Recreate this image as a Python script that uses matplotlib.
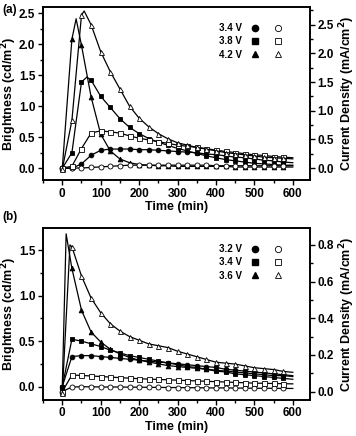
import numpy as np
import matplotlib.pyplot as plt
from matplotlib.lines import Line2D
from matplotlib.legend_handler import HandlerTuple
from matplotlib.ticker import MultipleLocator

plt.rcParams['font.family'] = ['Liberation Sans', 'DejaVu Sans']
plt.rcParams['font.weight'] = 'bold'
plt.rcParams['axes.labelweight'] = 'bold'

# time grid (min), markers every 25 min, line runs on to 600
t = np.arange(0, 625, 25)

# panel (a): filled = brightness (cd/m2), open = current density (mA/cm2)
a_labels = ['3.4 V', '3.8 V', '4.2 V']
a_bright = [
    [0, 0.0, 0.07, 0.21, 0.29, 0.31, 0.31, 0.31, 0.30, 0.30, 0.29, 0.28, 0.27,
     0.26, 0.25, 0.23, 0.22, 0.20, 0.18, 0.17, 0.15, 0.13, 0.12, 0.10, 0.09],
    [0, 0.25, 1.39, 1.42, 1.16, 0.98, 0.80, 0.66, 0.56, 0.48, 0.42, 0.37, 0.32,
     0.28, 0.24, 0.20, 0.17, 0.14, 0.12, 0.10, 0.08, 0.07, 0.06, 0.05, 0.05],
    [0, 2.08, 1.98, 1.15, 0.55, 0.28, 0.15, 0.09, 0.06, 0.05, 0.04, 0.04, 0.03,
     0.03, 0.03, 0.03, 0.03, 0.03, 0.02, 0.02, 0.02, 0.02, 0.02, 0.02, 0.02],
]
a_bright_peak = [None, (64, 1.47), (36, 2.41)]
a_curr = [
    [0, 0.0, 0.0, 0.01, 0.02, 0.03, 0.04, 0.05, 0.05, 0.05, 0.05, 0.05, 0.05,
     0.05, 0.05, 0.05, 0.04, 0.04, 0.04, 0.04, 0.04, 0.04, 0.04, 0.04, 0.04],
    [0, 0.03, 0.34, 0.61, 0.65, 0.63, 0.61, 0.56, 0.52, 0.49, 0.46, 0.43, 0.40,
     0.38, 0.36, 0.34, 0.31, 0.29, 0.27, 0.25, 0.23, 0.22, 0.20, 0.19, 0.18],
    [-0.02, 0.83, 2.67, 2.50, 2.03, 1.68, 1.38, 1.08, 0.87, 0.72, 0.60, 0.51, 0.44,
     0.40, 0.36, 0.33, 0.30, 0.27, 0.25, 0.23, 0.21, 0.19, 0.18, 0.17, 0.16],
]
a_curr_peak = [None, None, (57, 2.74)]

# panel (b)
b_labels = ['3.2 V', '3.4 V', '3.6 V']
b_bright = [
    [0, 0.33, 0.34, 0.34, 0.33, 0.32, 0.31, 0.30, 0.29, 0.28, 0.27, 0.26, 0.25,
     0.24, 0.23, 0.22, 0.21, 0.19, 0.18, 0.17, 0.16, 0.15, 0.14, 0.13, 0.12],
    [0, 0.52, 0.50, 0.47, 0.44, 0.40, 0.37, 0.34, 0.32, 0.30, 0.28, 0.26, 0.24,
     0.22, 0.21, 0.19, 0.17, 0.16, 0.14, 0.13, 0.12, 0.11, 0.10, 0.09, 0.08],
    [0, 1.30, 0.84, 0.60, 0.49, 0.41, 0.36, 0.32, 0.29, 0.27, 0.25, 0.23, 0.22,
     0.21, 0.20, 0.19, 0.18, 0.17, 0.16, 0.15, 0.14, 0.13, 0.12, 0.12, 0.11],
]
b_bright_peak = [None, None, (10, 1.68)]
b_curr = [
    [0, 0.025, 0.026, 0.026, 0.025, 0.025, 0.025, 0.024, 0.024, 0.023, 0.023, 0.022, 0.022,
     0.021, 0.021, 0.020, 0.020, 0.020, 0.019, 0.019, 0.018, 0.018, 0.018, 0.017, 0.017],
    [0, 0.090, 0.088, 0.085, 0.082, 0.079, 0.076, 0.073, 0.070, 0.068, 0.066, 0.064, 0.062,
     0.060, 0.058, 0.056, 0.054, 0.052, 0.050, 0.048, 0.046, 0.045, 0.044, 0.043, 0.042],
    [-0.01, 0.79, 0.63, 0.51, 0.43, 0.37, 0.33, 0.30, 0.28, 0.26, 0.25, 0.24, 0.22,
     0.205, 0.19, 0.175, 0.16, 0.155, 0.15, 0.14, 0.13, 0.125, 0.12, 0.11, 0.105],
]
b_curr_peak = [None, None, (20, 0.80)]

markers = ['o', 's', '^']


def series(vals, peak):
    tt = t.astype(float)
    vv = np.array(vals, dtype=float)
    if peak is not None:
        tt = np.append(tt, peak[0])
        vv = np.append(vv, peak[1])
    order = np.argsort(tt, kind='stable')
    tt, vv = tt[order], vv[order]
    mark = [i for i, x in enumerate(tt) if x % 25 == 0 and x < 600]
    return tt, vv, mark


def draw(ax, ax2, bright, bpeaks, curr, cpeaks, labels):
    for m, vals, pk in zip(markers, bright, bpeaks):
        tt, vv, mk = series(vals, pk)
        ax.plot(tt, vv, '-', color='black', lw=0.9, marker=m, ms=3.4,
                mfc='black', mec='black', mew=0.6, markevery=mk)
    for m, vals, pk in zip(markers, curr, cpeaks):
        tt, vv, mk = series(vals, pk)
        ax2.plot(tt, vv, '-', color='black', lw=0.9, marker=m, ms=3.6,
                 mfc='white', mec='black', mew=0.6, markevery=mk)
    handles = []
    for m in markers:
        f = Line2D([], [], ls='none', marker=m, ms=4.5, mfc='black', mec='black')
        o = Line2D([], [], ls='none', marker=m, ms=4.5, mfc='white', mec='black', mew=0.6)
        handles.append((f, o))
    ax2.legend(handles, labels, handler_map={tuple: HandlerTuple(ndivide=None, pad=1.6)},
               markerfirst=False, frameon=False, loc='upper right',
               bbox_to_anchor=(0.91, 0.93), fontsize=7, handlelength=3.2,
               handletextpad=0.9, labelspacing=0.35, borderaxespad=0)


def style(ax, ax2):
    ax.set_xlim(-50, 645)
    ax.xaxis.set_major_locator(MultipleLocator(100))
    ax.xaxis.set_minor_locator(MultipleLocator(50))
    for a in (ax, ax2):
        a.tick_params(which='both', direction='out', width=1.0, labelsize=8.5, pad=2)
        a.tick_params(which='major', length=3.5)
        a.tick_params(which='minor', length=2)
        for s in a.spines.values():
            s.set_linewidth(1.2)
    ax.tick_params(top=False, right=False)
    ax.set_xlabel('Time (min)', fontsize=9, labelpad=1)
    ax.set_ylabel('Brightness (cd/m$\\mathbf{^2}$)', fontsize=9)
    ax2.set_ylabel('Current Density (mA/cm$\\mathbf{^2}$)', fontsize=9)
    ax.yaxis.set_label_coords(-0.092, 0.5)
    ax2.yaxis.set_label_coords(1.103, 0.5)


fig = plt.figure(figsize=(3.56, 4.36), dpi=100)

ax_a = fig.add_axes([0.121, 0.587, 0.750, 0.397])
ax_a2 = ax_a.twinx()
draw(ax_a, ax_a2, a_bright, a_bright_peak, a_curr, a_curr_peak, a_labels)
style(ax_a, ax_a2)
ax_a.set_ylim(-0.19, 2.60)
ax_a.yaxis.set_major_locator(MultipleLocator(0.5))
ax_a.yaxis.set_minor_locator(MultipleLocator(0.25))
ax_a2.set_ylim(-0.21, 2.81)
ax_a2.yaxis.set_major_locator(MultipleLocator(0.5))
ax_a2.yaxis.set_minor_locator(MultipleLocator(0.25))
fig.text(0.006, 0.977, '(a)', fontsize=8.5, fontweight='bold', va='center')

ax_b = fig.add_axes([0.121, 0.083, 0.750, 0.394])
ax_b2 = ax_b.twinx()
draw(ax_b, ax_b2, b_bright, b_bright_peak, b_curr, b_curr_peak, b_labels)
style(ax_b, ax_b2)
ax_b.set_ylim(-0.146, 1.744)
ax_b.yaxis.set_major_locator(MultipleLocator(0.5))
ax_b.yaxis.set_minor_locator(MultipleLocator(0.25))
ax_b2.set_ylim(-0.045, 0.892)
ax_b2.yaxis.set_major_locator(MultipleLocator(0.2))
ax_b2.yaxis.set_minor_locator(MultipleLocator(0.1))
fig.text(0.006, 0.502, '(b)', fontsize=8.5, fontweight='bold', va='center')

fig.savefig('out.png', dpi=100)
